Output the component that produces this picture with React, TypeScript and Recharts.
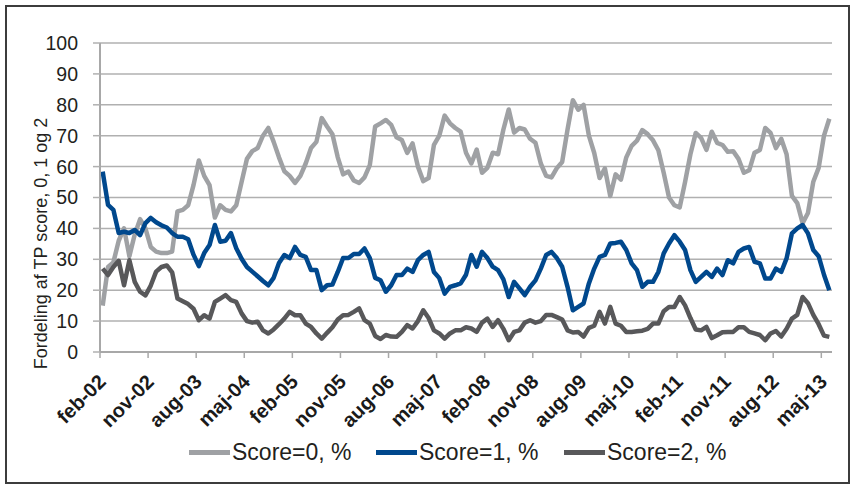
import React from 'react';
import { LineChart, Line, XAxis, YAxis, CartesianGrid } from 'recharts';

const MONTH_NAMES = ['jan', 'feb', 'mar', 'apr', 'maj', 'jun', 'jul', 'aug', 'sep', 'okt', 'nov', 'dec'];
const FIRST_MONTH = 1; // feb
const FIRST_YEAR = 2002;
const TICK_LABELS = ['feb-02', 'nov-02', 'aug-03', 'maj-04', 'feb-05', 'nov-05', 'aug-06', 'maj-07', 'feb-08', 'nov-08', 'aug-09', 'maj-10', 'feb-11', 'nov-11', 'aug-12', 'maj-13'];
const Y_TICKS = [0, 10, 20, 30, 40, 50, 60, 70, 80, 90, 100];
const Y_LABEL = 'Fordeling af TP score, 0, 1 og 2';

const SCORE0 = [
  15, 27.5, 29, 36, 40, 31, 38, 43, 40, 34,
  32.5, 32, 32, 32.5, 45.5, 46, 47.5, 54, 62, 57,
  54, 43.5, 47.5, 46, 45.5, 47.5, 55, 62.5, 65, 66,
  70, 72.5, 68, 63, 58.5, 57, 54.7, 57, 61, 66,
  68, 75.7, 73, 70.5, 63, 57.5, 58.4, 55.5, 54.7, 56.5,
  60.5, 73, 74, 75.1, 73.5, 69.5, 68.6, 64.4, 67.5, 60,
  55.3, 56.3, 67, 70, 76.5, 74, 72.5, 71.3, 64.5, 61,
  65.5, 58, 59.6, 64.5, 64, 72, 78.5, 71, 72.5, 72,
  69, 67.7, 61, 57, 56.5, 59.5, 61.5, 72, 81.5, 78.4,
  80, 70, 64.4, 56.3, 59.4, 50.5, 57.5, 55.8, 63, 66.7,
  68.4, 71.8, 70.5, 68.5, 65.3, 58, 50, 47.5, 46.8, 55,
  64, 70.9, 69.3, 65.4, 71.3, 67.7, 67, 64.8, 65, 62.5,
  58, 58.8, 64.5, 65.4, 72.5, 70.9, 66, 69, 64, 50.5,
  48.2, 41.7, 45, 55.1, 59.6, 70, 75.5,
];

const SCORE1 = [
  58.4, 47.6, 46, 38.5, 38.9, 38.5, 39.5, 37.8, 41.7, 43.4,
  42, 41, 40.3, 38.5, 37.3, 37.3, 36.5, 31.5, 27.8, 32,
  34.6, 41.1, 35.7, 36, 38.5, 33.6, 30.2, 27.5, 26, 24.5,
  23, 21.6, 24, 28.8, 31.4, 30.4, 34, 31.4, 30.8, 26.5,
  26.5, 20, 21.6, 21.8, 25.9, 30.4, 30.4, 31.7, 31.7, 33.5,
  30.4, 24, 23.2, 19.5, 21.6, 24.9, 24.9, 27, 25.9, 29.7,
  31.4, 32.4, 25.9, 23.9, 18.9, 21.1, 21.6, 22.2, 25, 31.4,
  27.6, 32.4, 30.4, 27.6, 26.5, 23.5, 17.8, 22.7, 20.6, 18.4,
  21.1, 23.2, 27, 31.4, 32.4, 30.4, 27.6, 21.1, 13.5, 14.6,
  15.7, 22.2, 27, 30.8, 31.4, 35.1, 35.3, 35.7, 33, 28.7,
  26.5, 21.1, 22.7, 22.7, 25.9, 31.9, 35.1, 37.8, 35.7, 33,
  26.5, 22.7, 24.3, 25.9, 24.3, 27, 24.9, 29.7, 28.7, 32.4,
  33.5, 34, 29.2, 28.7, 23.8, 23.8, 27, 25.9, 30.3, 38.4,
  40, 41.1, 38.4, 33, 31, 25, 20,
];

const SCORE2 = [
  27, 24.9, 27.5, 29.5, 21.6, 29.7, 22.7, 19.5, 18.3, 21.5,
  26, 27.5, 28, 25.8, 17.3, 16.4, 15.5, 14, 10.3, 11.9,
  10.8, 16.2, 17.3, 18.4, 16.8, 16.2, 12.5, 10, 9.5, 9.8,
  7, 6, 7.3, 9, 10.8, 13, 11.9, 11.9, 9.2, 8.1,
  6, 4.3, 6.2, 8, 10.5, 11.9, 12, 13, 14.1, 10.3,
  9.2, 5.2, 4.2, 5.5, 5, 4.9, 6.5, 8.7, 7.6, 10,
  13.5, 11, 7, 6, 4.3, 6, 7, 7, 8, 7.6,
  6.5, 9.5, 10.8, 8.1, 10.3, 7.5, 3.8, 6.5, 7, 9.5,
  10.3, 9.5, 10, 12, 12, 11.3, 10.5, 7, 6.3, 6.5,
  5, 7.8, 8.5, 13, 9.2, 14.6, 9.2, 8.5, 6.5, 6.5,
  6.7, 6.9, 7.5, 9.2, 9.2, 13.2, 14.6, 14.6, 17.8, 15.1,
  11, 7.3, 7, 8.1, 4.5, 5.4, 6.4, 6.5, 6.5, 8,
  8, 6.5, 6, 5.5, 3.8, 6, 6.8, 5, 7.5, 10.8,
  12, 17.8, 15.8, 12, 9, 5.3, 4.9,
];

const SERIES = [
  { key: 's0', name: 'Score=0, %', color: '#9fa1a4', values: SCORE0 },
  { key: 's1', name: 'Score=1, %', color: '#00488d', values: SCORE1 },
  { key: 's2', name: 'Score=2, %', color: '#58585a', values: SCORE2 },
];

const categories = SCORE0.map((_, i) => {
  const m = FIRST_MONTH + i;
  const yy = (FIRST_YEAR + Math.floor(m / 12)) % 100;
  return `${MONTH_NAMES[m % 12]}-${String(yy).padStart(2, '0')}`;
});

const data = categories.map((cat, i) => {
  const row: Record<string, number | string> = { cat, pos: i + 0.5 };
  SERIES.forEach((s) => {
    row[s.key] = s.values[i];
  });
  return row;
});

const xTicks = TICK_LABELS.map((l) => categories.indexOf(l));

const FONT = '"Liberation Sans", Arial, sans-serif';
const GRID = '#b0b0b0';

const XTick = (props: any) => {
  const { x, y, payload } = props;
  const ax = x + 7;
  const ay = y + 23;
  return (
    <g>
      <text
        x={ax}
        y={ay}
        transform={`rotate(-45 ${ax} ${ay})`}
        textAnchor="end"
        fontWeight="bold"
        fontSize={20}
        fill="#1a1a1a"
        fontFamily={FONT}
      >
        {categories[payload.value]}
      </text>
    </g>
  );
};

const LEGEND_X = [189, 376, 564];

export default function App() {
  return (
    <div
      style={{
        position: 'absolute',
        left: 0,
        top: 0,
        width: 854,
        height: 487,
        background: '#ffffff',
        fontFamily: FONT,
        overflow: 'hidden',
      }}
    >
      <LineChart
        width={854}
        height={487}
        data={data}
        margin={{ top: 43, right: 22, left: 0, bottom: 0 }}
      >
        <CartesianGrid vertical={false} stroke={GRID} strokeWidth={1.5} />
        <XAxis
          type="number"
          dataKey="pos"
          domain={[0, categories.length]}
          ticks={xTicks}
          interval={0}
          height={135}
          tickSize={6}
          tickMargin={2}
          axisLine={{ stroke: '#a8a8a8', strokeWidth: 2 }}
          tickLine={{ stroke: '#a8a8a8', strokeWidth: 1.5 }}
          tick={<XTick />}
        />
        <YAxis
          type="number"
          domain={[0, 100]}
          ticks={Y_TICKS}
          interval={0}
          width={100}
          tickSize={7}
          tickMargin={15}
          axisLine={{ stroke: '#a8a8a8', strokeWidth: 2 }}
          tickLine={{ stroke: GRID, strokeWidth: 1.5 }}
          tick={{ fontSize: 19.5, fill: '#231f20', fontFamily: FONT }}
        />
        {SERIES.map((s) => (
          <Line
            key={s.key}
            type="linear"
            dataKey={s.key}
            name={s.name}
            stroke={s.color}
            strokeWidth={4.5}
            dot={false}
            activeDot={false}
            strokeLinejoin="round"
            isAnimationActive={false}
          />
        ))}
      </LineChart>
      <svg
        width={854}
        height={487}
        style={{ position: 'absolute', left: 0, top: 0, pointerEvents: 'none' }}
      >
        <text
          x={47}
          y={243.5}
          transform="rotate(-90 47 243.5)"
          textAnchor="middle"
          fontSize={18}
          fill="#231f20"
          fontFamily={FONT}
        >
          {Y_LABEL}
        </text>
        {SERIES.map((s, i) => (
          <g key={s.key}>
            <line
              x1={LEGEND_X[i]}
              x2={LEGEND_X[i] + 41}
              y1={452.5}
              y2={452.5}
              stroke={s.color}
              strokeWidth={5}
            />
            <text x={LEGEND_X[i] + 43} y={460} fontSize={23} fill="#231f20" fontFamily={FONT}>
              {s.name}
            </text>
          </g>
        ))}
      </svg>
      <div
        style={{
          position: 'absolute',
          left: 5,
          top: 5,
          width: 845,
          height: 479,
          border: '2px solid #3c3c3c',
          boxSizing: 'border-box',
          pointerEvents: 'none',
        }}
      />
    </div>
  );
}
